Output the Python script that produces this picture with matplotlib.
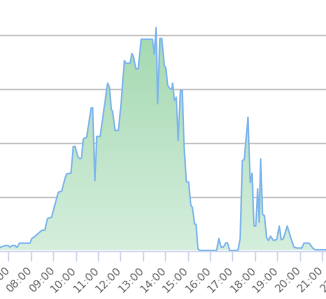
import numpy as np
import matplotlib
matplotlib.use('Agg')
import matplotlib.pyplot as plt
from matplotlib.colors import LinearSegmentedColormap

# readings (time of day, value)
times = ['06:38', '06:51', '06:59', '07:05', '07:10', '07:18', '07:23', '07:30', '07:58',
         '08:03', '08:11', '08:20', '08:29', '08:38', '08:45', '08:56', '09:05', '09:14',
         '09:23', '09:33', '09:37', '09:48', '09:54', '09:59', '10:06', '10:12', '10:16',
         '10:21', '10:30', '10:42', '10:46', '10:52', '10:57', '11:06', '11:26', '11:31',
         '11:36', '11:39', '11:46', '11:55', '12:02', '12:11', '12:15', '12:26', '12:31',
         '12:35', '12:42', '12:48', '12:56', '13:26', '13:31', '13:36', '13:40', '13:46',
         '13:51', '13:58', '14:02', '14:07', '14:13', '14:18', '14:20', '14:25', '14:30',
         '14:35', '14:41', '14:46', '14:51', '14:57', '15:03', '15:09', '15:13', '15:19',
         '15:23', '15:28', '15:32', '16:18', '16:24', '16:30', '16:36', '16:43', '16:47',
         '16:53', '17:15', '17:21', '17:27', '17:32', '17:42', '17:48', '17:53', '17:58',
         '18:03', '18:08', '18:12', '18:16', '18:21', '18:26', '18:32', '18:37', '18:42',
         '18:50', '18:59', '19:06', '19:11', '19:17', '19:27', '19:37', '19:45', '19:53',
         '20:06', '20:12', '20:26', '20:35', '20:41', '21:30']
values = [2.8, 4.6, 4.6, 3.1, 4.6, 4.6, 2.8, 6.8, 6.8,
          11.1, 13.0, 15.7, 18.5, 19.0, 29.6, 30.8, 42.6, 54.0,
          54.9, 68.1, 71.0, 71.6, 96.3, 96.3, 87.0, 84.9, 85.6,
          103.4, 104.9, 132.1, 132.1, 64.8, 105.6, 105.6, 154.9, 151.2,
          130.1, 129.6, 111.1, 111.1, 135.8, 175.9, 173.4, 173.4, 182.4,
          179.6, 168.2, 168.2, 195.6, 195.6, 181.5, 206.5, 135.8, 196.3,
          196.3, 171.3, 169.2, 152.8, 149.7, 149.7, 154.9, 138.9, 141.9,
          101.9, 148.1, 148.1, 95.4, 63.9, 63.2, 41.7, 40.1, 24.7,
          24.1, 1.6, 0, 0, 11.1, 3.1, 3.1, 7.1, 7.1,
          0, 0, 11.1, 83.3, 84.3, 123.4, 63.0, 71.6, 22.7,
          22.7, 57.1, 26.2, 84.9, 33.3, 32.4, 11.6, 9.3, 13.4,
          9.3, 10.2, 22.7, 9.9, 11.1, 22.7, 11.3, 3.2, 2.3,
          2.3, 6.8, 6.8, 2.5, 0.7, 0.7]
tick_hours = list(range(7, 23))
tick_labels = ['%02d:00' % h for h in tick_hours]

x = np.array([int(t[:2]) + int(t[3:]) / 60 for t in times])
y = np.array(values, dtype=float)

W, H = 326, 299
fig = plt.figure(figsize=(W / 100, H / 100), dpi=100)
fig.patch.set_facecolor('white')

# plot area is wider than the picture: 07:00 sits at x=8.3px, 22.4px per hour
x0, x1 = 6.0, 22.5
px_per_h = 22.4
left_px = 8.3 - (7 - x0) * px_per_h
ax = fig.add_axes([left_px / W, 1 - 250.5 / H, (x1 - x0) * px_per_h / W, 250.5 / H])
ax.set_xlim(x0, x1)
ax.set_ylim(0, 250.5 / 54 * 50)
ax.set_facecolor('white')

for s in ['top', 'right', 'left']:
    ax.spines[s].set_visible(False)
ax.spines['bottom'].set_color('#ccd6eb')
ax.spines['bottom'].set_linewidth(1)

ax.set_yticks([50, 100, 150, 200])
ax.yaxis.grid(True, color='#c0c0c0', linewidth=1)
ax.set_axisbelow(True)
ax.tick_params(axis='y', left=False, labelleft=False)

ax.set_xticks(tick_hours)
ax.set_xticklabels(tick_labels, rotation=45, ha='right', va='center',
                   rotation_mode='anchor')
ax.tick_params(axis='x', length=7, width=1, color='#ccd6eb', labelcolor='#666666',
               labelsize=8, pad=6)

# gradient fill under the line
fill = ax.fill_between(x, y, 0, color='none', lw=0)
cmap = LinearSegmentedColormap.from_list('g', ['#d5eedd', '#a2d8af'])
grad = np.linspace(0, 1, 256).reshape(-1, 1)
im = ax.imshow(grad, cmap=cmap, aspect='auto', origin='lower',
               extent=[x0, x1, 0, 210], zorder=1)
path = fill.get_paths()[0]
im.set_clip_path(path, transform=ax.transData)

ax.plot(x, y, color='#7cb5ec', lw=1.1, zorder=3, solid_joinstyle='round')

fig.savefig('out.png', dpi=100)
